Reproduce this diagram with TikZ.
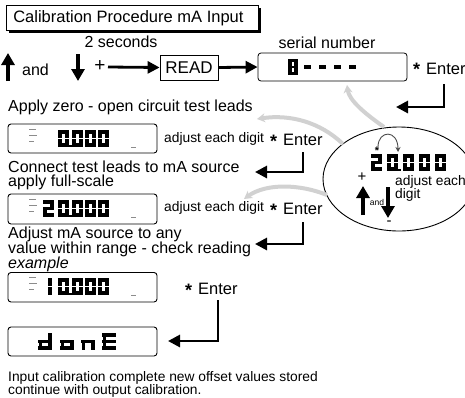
\documentclass[tikz,border=0pt]{standalone}
\usepackage{fontspec}
\setmainfont{Liberation Sans}
\usetikzlibrary{arrows.meta}
\tikzset{
  txt/.style={inner sep=0pt, anchor=base west, font=\fontsize{16}{15}\selectfont},
  smalltxt/.style={inner sep=0pt, anchor=base west, font=\fontsize{13.8}{14}\selectfont},
  bottxt/.style={inner sep=0pt, anchor=base west, font=\fontsize{13.8}{14}\selectfont},
  entertxt/.style={inner sep=0pt, anchor=base west, font=\fontsize{16.5}{16}\selectfont},
  startxt/.style={inner sep=0pt, anchor=base west, font=\fontsize{18}{16}\selectfont\bfseries},
  lcdbox/.style={draw, line width=0.9pt, rounded corners=3pt},
  blk/.style={line width=2.8pt, -{Triangle[length=12pt, width=12pt]}},
  vblk/.style={line width=3.2pt, -{Triangle[length=12pt, width=13pt]}},
  grayarr/.style={draw=black!18, line width=4pt, -{Stealth[length=8pt, width=9pt]}},
  segline/.style={line width=3.8pt, line cap=butt},
  tinymark/.style={draw=black!45, line width=0.5pt},
}
\newcommand\lcd[4][1]{%
  \begin{scope}[shift={(#2,#3)}, xscale=#1]
    \foreach \s in {#4}{%
      \if a\s \draw[segline] (0,1.9)--(11,1.9);\fi
      \if b\s \draw[segline] (9.1,0)--(9.1,7.9);\fi
      \if c\s \draw[segline] (9.1,9.1)--(9.1,17);\fi
      \if d\s \draw[segline] (0,15.1)--(11,15.1);\fi
      \if e\s \draw[segline] (1.9,9.1)--(1.9,17);\fi
      \if f\s \draw[segline] (1.9,0)--(1.9,7.9);\fi
      \if g\s \draw[segline] (0,8.5)--(11,8.5);\fi
    }
  \end{scope}}
\newcommand\dpt[2]{\fill (#1,#2) rectangle ++(2.4,-2.4);}
\begin{document}
\begin{tikzpicture}[x=1pt,y=-1pt]
\useasboundingbox (0,0) rectangle (465,397);
\clip (0,0) rectangle (465,397);

% title
\fill (8.5,7.5) rectangle (260.5,32.5);
\node[draw, fill=white, line width=0.8pt, minimum width=252pt, minimum height=25pt, inner sep=0pt, anchor=north west,
      font=\fontsize{16.5}{16}\selectfont] (title) at (6,5) {\hspace*{-8pt}Calibration Procedure mA Input};

% row 1
\node[inner sep=0pt, anchor=base, font=\fontsize{16}{15}\selectfont] (twosec) at (121,47.5) {2 seconds};
\coordinate (upb) at (8,81); \coordinate (upt) at (8,53);
\draw[vblk] (upb) -- (upt);
\node[txt] (and1) at (22,75) {and};
\coordinate (dnt) at (78,81); \coordinate (dnb) at (78,54);
\draw[vblk] (dnb) -- (dnt);
\node[inner sep=0pt, font=\fontsize{19}{18}\selectfont] (plus) at (100,66.5) {+};
\coordinate (plusr) at (108,67);
\node[draw, line width=0.8pt, minimum width=58pt, minimum height=25pt, inner sep=0pt, font=\fontsize{17}{16}\selectfont] (read) at (189,67.5) {READ};
\draw[blk] (plusr) -- (read.west);
\node[draw, line width=0.8pt, rounded corners=3pt, minimum width=149pt, minimum height=28pt, inner sep=0pt] (serial) at (332.5,67) {};
\draw[blk] (read.east) -- (serial.west);
\node[inner sep=0pt, anchor=base, font=\fontsize{16}{15}\selectfont] (sernum) at (327,48) {serial number};
% serial content
\fill (288,59) rectangle (298,75);
\fill[white] (292.2,62) rectangle (293.8,66.4);
\fill[white] (292.2,67.6) rectangle (293.8,72);
\foreach \xx in {304,319,334,349} {\draw[line width=3.4pt] (\xx,67) -- ++(7,0);}
\node[startxt] (st1) at (413,75) {*};
\node[entertxt] (en1) at (426,74) {Enter};
\coordinate (e1a) at (444,84); \coordinate (e1b) at (396,107);
\draw[blk] (e1a) |- (e1b);

\node[txt] (applyzero) at (8,111.5) {Apply zero - open circuit test leads};

% display 1
\draw[lcdbox] (8,124) rectangle (157,153);
\node[inner sep=0pt] (d1) at (82,138) {};
\draw[tinymark] (29,129)--(36,129) (29,135)--(37,135) (29,141)--(34,141) (131,147)--(136,147);
\lcd{58}{130}{a,b,c,d,e,f}
\dpt{69.3}{147}
\lcd{72}{130}{a,b,c,d,e,f}
\lcd{85}{130}{a,b,c,d,e,f}
\lcd{98}{130}{a,b,c,d,e,f}
\node[smalltxt] (adj1) at (164,142) {adjust each digit};
\node[startxt] (st2) at (270,147) {*};
\node[entertxt] (en2) at (283,145) {Enter};
\coordinate (e2a) at (303,152); \coordinate (e2b) at (255,172);
\draw[blk] (e2a) |- (e2b);

\node[txt] (connect) at (8,172) {Connect test leads to mA source};
\node[txt] (fullsc) at (8,186.5) {apply full-scale};

% display 2
\draw[lcdbox] (8,194) rectangle (157,224);
\node[inner sep=0pt] (d2) at (82,209) {};
\draw[tinymark] (29,199)--(36,199) (29,205)--(37,205) (29,211)--(34,211) (131,217)--(136,217);
\lcd{43}{200}{a,b,g,e,d}
\lcd{58}{200}{a,b,c,d,e,f}
\dpt{69.3}{217}
\lcd{72}{200}{a,b,c,d,e,f}
\lcd{85}{200}{a,b,c,d,e,f}
\lcd{98}{200}{a,b,c,d,e,f}
\node[smalltxt] (adj2) at (164,211) {adjust each digit};
\node[startxt] (st3) at (270,216) {*};
\node[entertxt] (en3) at (283,214) {Enter};
\coordinate (e3a) at (303,222); \coordinate (e3b) at (255,244);
\draw[blk] (e3a) |- (e3b);

\node[txt] (adjsrc) at (8,238.5) {Adjust mA source to any};
\node[txt] (within) at (8,253.5) {value within range - check reading};
\node[txt, font=\fontsize{16}{15}\selectfont\itshape] (example) at (8,268.5) {example};

% display 3
\draw[lcdbox] (8,272.5) rectangle (157,302);
\node[inner sep=0pt] (d3) at (82,287) {};
\draw[tinymark] (29,277)--(36,277) (29,283)--(37,283) (29,289)--(34,289) (131,295)--(136,295);
\lcd{41}{278}{b,c}
\lcd{58}{278}{a,b,c,d,e,f}
\dpt{69.3}{295}
\lcd{72}{278}{a,b,c,d,e,f}
\lcd{85}{278}{a,b,c,d,e,f}
\lcd{98}{278}{a,b,c,d,e,f}
\node[startxt] (st4) at (185,296) {*};
\node[entertxt] (en4) at (198,294) {Enter};
\coordinate (e4a) at (218,300); \coordinate (e4b) at (168,341);
\draw[blk] (e4a) |- (e4b);

% display 4 (done)
\draw[lcdbox] (8,327) rectangle (157,356);
\node[inner sep=0pt] (d4) at (82,341) {};
\lcd[1.3]{38}{333}{b,c,d,e,g}
\lcd[1.3]{60}{333}{c,d,e,g}
\lcd[1.3]{81}{333}{c,e,g}
\lcd[1.3]{102}{333}{a,d,e,f,g}

\node[bottxt] (bot1) at (8,381.5) {Input calibration complete new offset values stored};
\node[bottxt] (bot2) at (8,394) {continue with output calibration.};

% ellipse
\draw[line width=0.9pt] (399,179) ellipse [x radius=76, y radius=52];
\node[inner sep=0pt] (ell) at (399,179) {};
\lcd{371}{154}{a,b,g,e,d}
\lcd{387}{154}{a,b,c,d,e,f}
\dpt{398.4}{171}
\lcd{403}{154}{a,b,c,d,e,f}
\lcd{419}{154}{a,b,c,d,e,f}
\lcd{435}{154}{a,b,c,d,e,f}
\node[inner sep=0pt, font=\fontsize{11}{11}\selectfont\bfseries] (est) at (377,151) {*};
\coordinate (arcs) at (378,147); \coordinate (arce) at (398,152);
\draw[black!70, line width=0.9pt, -{Stealth[length=5pt,width=5pt]}] (arcs) .. controls (378,130) and (398,129) .. (arce);
\node[inner sep=0pt, font=\fontsize{15}{15}\selectfont] (eplus) at (362,177) {+};
\coordinate (eub) at (363,215); \coordinate (eut) at (363,186);
\draw[vblk] (eub) -- (eut);
\node[inner sep=0pt, font=\fontsize{8.5}{9}\selectfont] (eand) at (377,202) {and};
\coordinate (edt) at (388,187); \coordinate (edb) at (388,218);
\draw[vblk] (edt) -- (edb);
\node[inner sep=0pt, font=\fontsize{15}{15}\selectfont] (eminus) at (389,223) {-};
\node[smalltxt] (eadj) at (395,185) {adjust each};
\node[smalltxt] (edig) at (395,198) {digit};

% gray arrows
\coordinate (g1a) at (384,127); \coordinate (g1b) at (347,85);
\draw[grayarr] (g1a) .. controls (364,113) and (349,100) .. (g1b);
\coordinate (g2a) at (343,144); \coordinate (g2b) at (257,119);
\draw[grayarr] (g2a) .. controls (320,122) and (290,114) .. (g2b);
\coordinate (g3a) at (327,195); \coordinate (g3b) at (244,199);
\draw[grayarr] (g3a) .. controls (300,184) and (266,183) .. (g3b);
\end{tikzpicture}
\end{document}
